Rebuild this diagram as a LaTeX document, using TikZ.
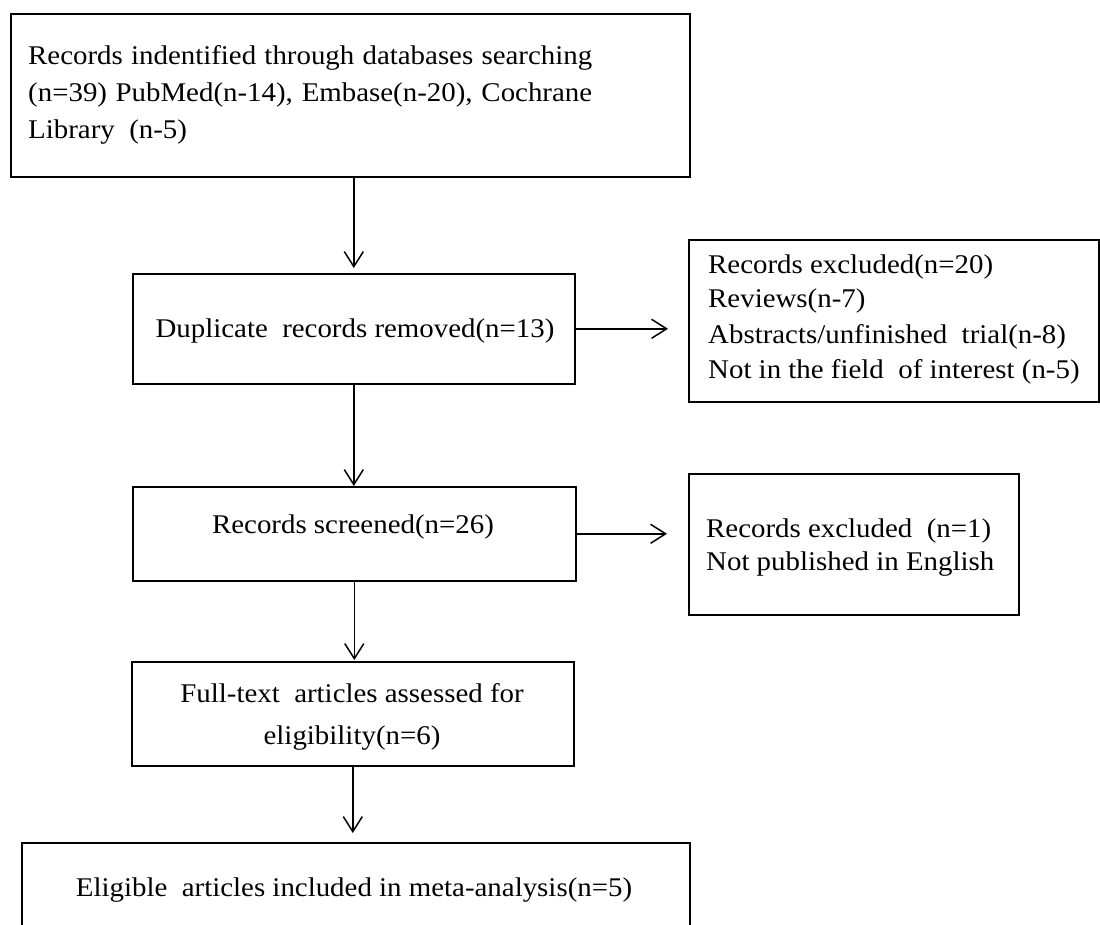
\documentclass[tikz,border=0pt]{standalone}
\usepackage{fontspec}
\setmainfont{Liberation Serif}[FakeStretch=1.07]
\usetikzlibrary{arrows.meta}
\begin{document}
\begin{tikzpicture}[x=1pt,y=-1pt,
  box/.style={draw=black, line width=1.6pt, inner sep=0pt, anchor=north west, fill=white},
  txt/.style={inner sep=0pt, font=\fontsize{27}{35}\selectfont},
  arr/.style={draw=black, line width=1.5pt, -{Straight Barb[length=15pt,width=19pt,line width=1.5pt]}}
]
\clip (0,0) rectangle (1100,925);
\fill[white] (0,0) rectangle (1100,925);

% boxes
\node[box, minimum width=679pt, minimum height=163pt] (b1) at (10,13) {};
\node[box, minimum width=442pt, minimum height=110pt] (b2) at (132,273) {};
\node[box, minimum width=410pt, minimum height=162pt] (b3) at (688,239) {};
\node[box, minimum width=443pt, minimum height=94pt]  (b4) at (132,486) {};
\node[box, minimum width=330pt, minimum height=141pt] (b5) at (688,473) {};
\node[box, minimum width=442pt, minimum height=104pt] (b6) at (131,661) {};
\node[box, minimum width=668pt, minimum height=150pt] (b7) at (21,842) {};

% texts
\node[txt, anchor=base west] (t1a) at (28,65)  {\makebox[564pt][s]{Records indentified through databases searching}};
\node[txt, anchor=base west] (t1b) at (28,102) {\makebox[564pt][s]{(n=39) PubMed(n-14), Embase(n-20), Cochrane}};
\node[txt, anchor=base west] (t1c) at (28,139) {Library\ \ (n-5)};

\node[txt, anchor=base] (t2) at (355,337) {Duplicate\ \ records removed(n=13)};

\node[txt, anchor=base west] (t3a) at (708,273) {Records excluded(n=20)};
\node[txt, anchor=base west] (t3b) at (708,308) {Reviews(n-7)};
\node[txt, anchor=base west] (t3c) at (708,343) {Abstracts/unfinished\ \ trial(n-8)};
\node[txt, anchor=base west] (t3d) at (708,378) {Not in the field\ \ of interest (n-5)};

\node[txt, anchor=base] (t4) at (353,533) {Records screened(n=26)};

\node[txt, anchor=base west] (t5a) at (706,537) {Records excluded\ \ (n=1)};
\node[txt, anchor=base west] (t5b) at (706,570) {Not published in English};

\node[txt, anchor=base] (t6a) at (352,702) {Full-text\ \ articles assessed for};
\node[txt, anchor=base] (t6b) at (352,744) {eligibility(n=6)};

\node[txt, anchor=base] (t7) at (354,896) {Eligible\ \ articles included in meta-analysis(n=5)};

% connectors
\draw[arr, shorten >=5pt] (b1.south -| b2.north) -- (b2.north);
\draw[arr, shorten >=20pt] (b2.east) -- (b2.east -| b3.west);
\draw[arr] (b2.south) -- (b2.south |- b4.north);
\draw[arr, shorten >=21pt] (b4.east) -- (b4.east -| b5.west);
\draw[arr, shorten >=1pt] (b4.south) -- (b4.south |- b6.north);
\draw[arr, shorten >=9pt] (b6.south) -- (b6.south |- b7.north);
\end{tikzpicture}
\end{document}
